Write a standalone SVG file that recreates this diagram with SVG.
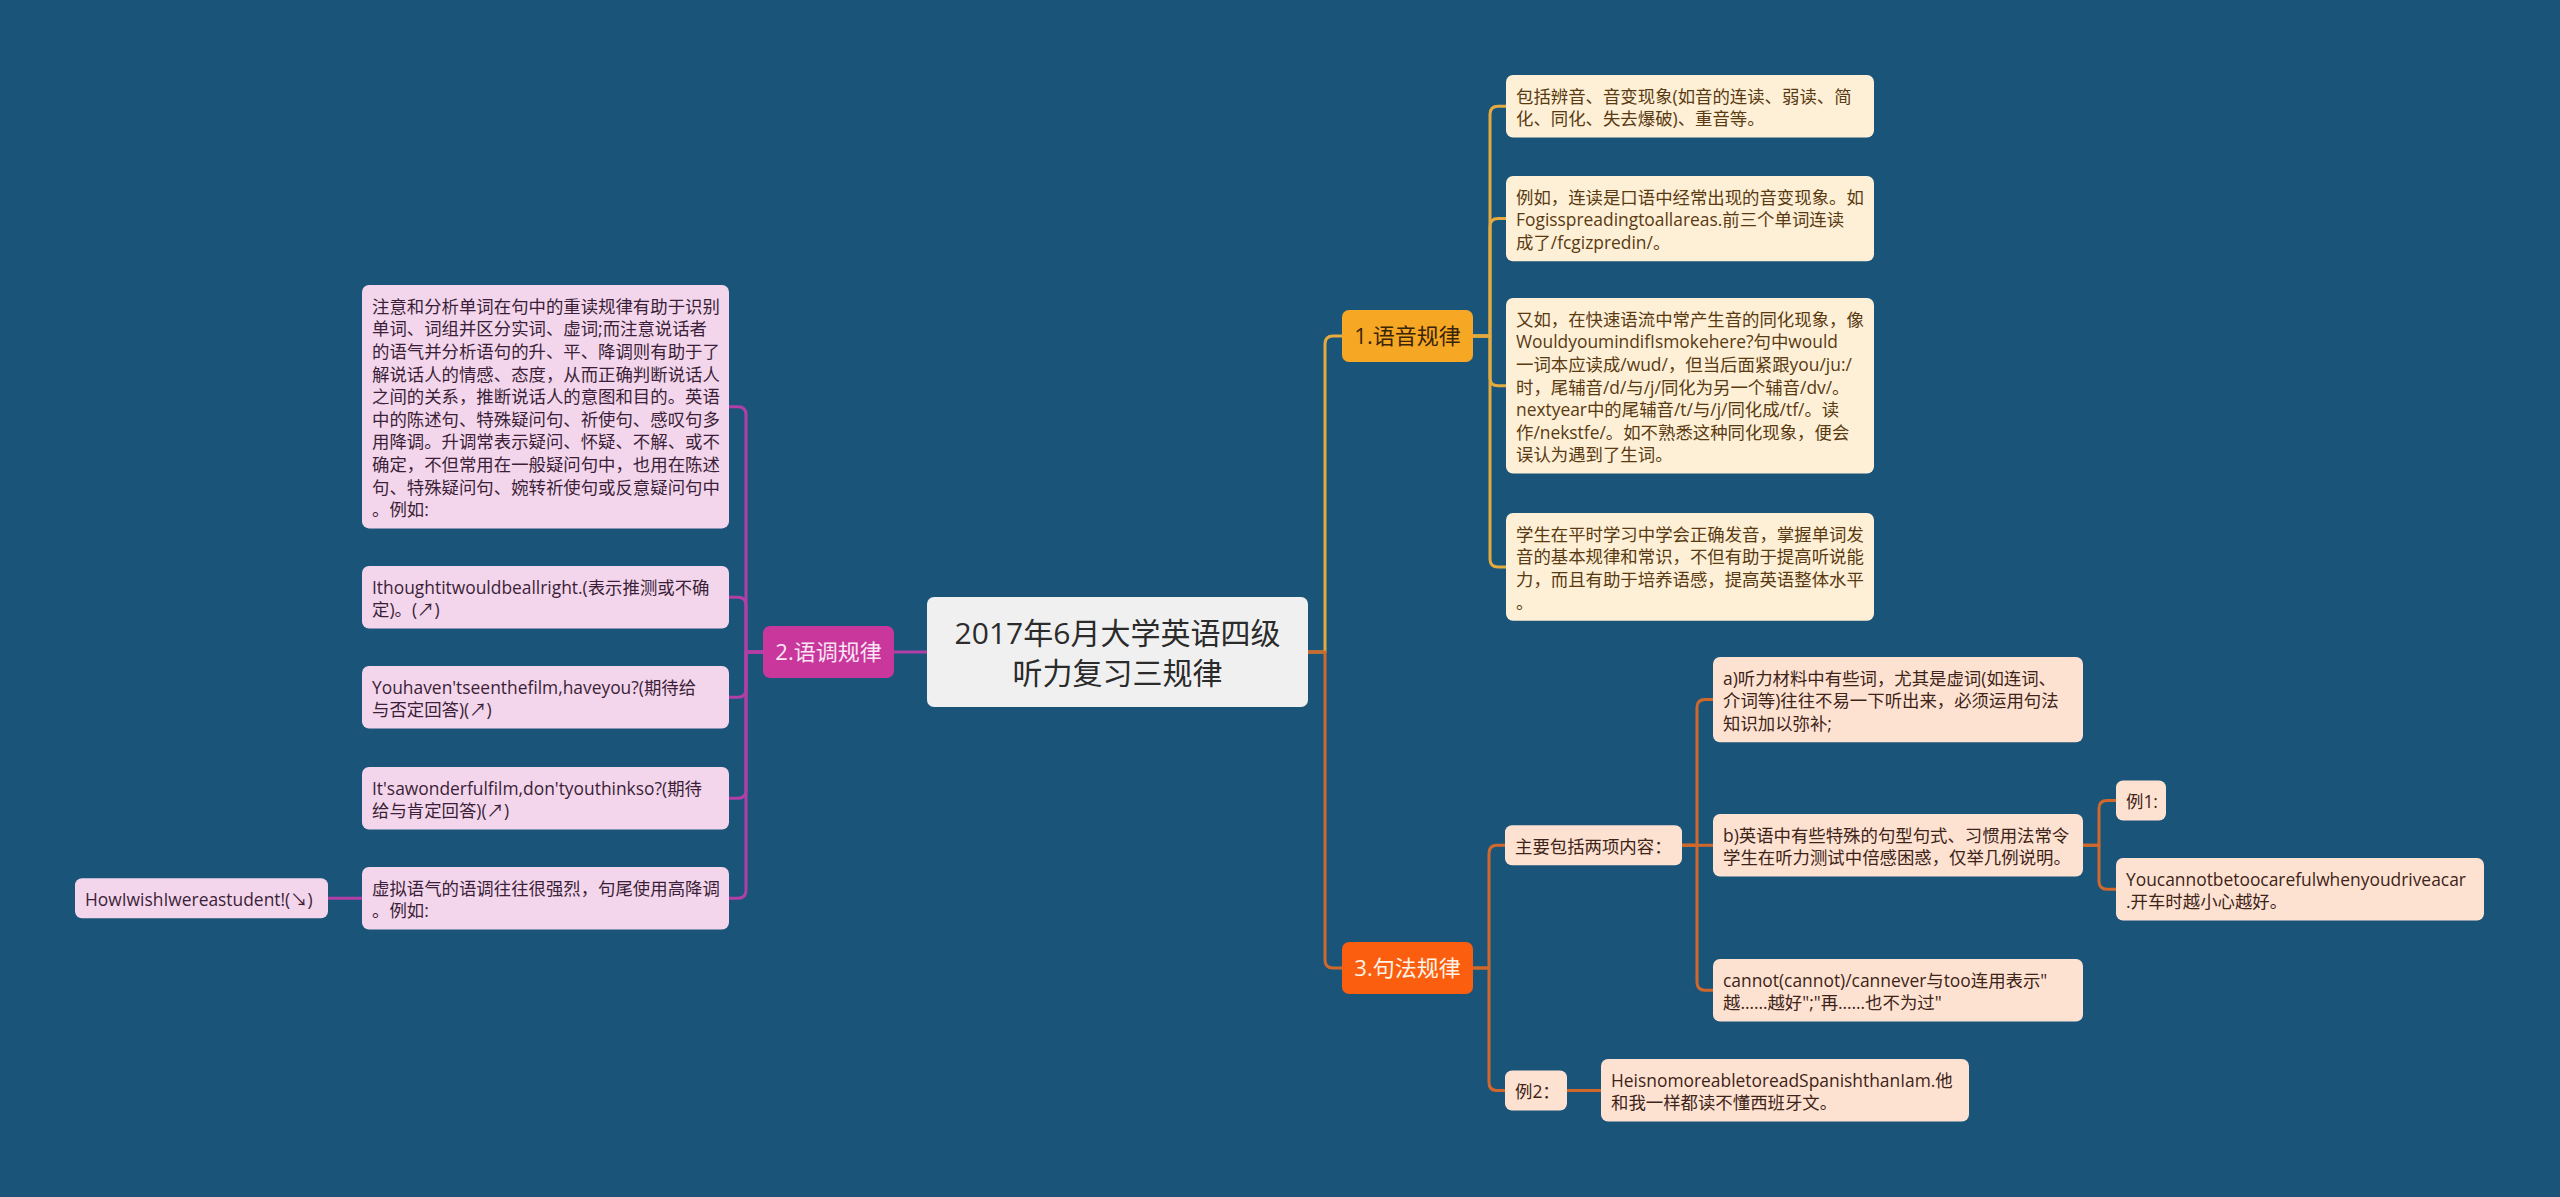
<svg xmlns="http://www.w3.org/2000/svg" width="2560" height="1197" viewBox="0 0 2560 1197">
<style>
text{font-family:"Open Sans","Noto Sans CJK SC",sans-serif;}
.t{font-size:17.4px;}
.br{font-size:22px;text-anchor:middle;}
.ctr{font-size:30px;text-anchor:middle;fill:#2b2b2b;}
.c1{fill:#fdf0d6;}
.c1t{fill:#5a3a12;}
.c3{fill:#fde2d2;}
.c3t{fill:#3e2418;}
.c2{fill:#f3d6ec;}
.c2t{fill:#3b1f38;}
.ln{fill:none;stroke-width:3;stroke-linejoin:round;}
.lg{stroke:#e2aa3f;}
.lo{stroke:#d0682c;}
.lp{stroke:#b23fa5;}
</style>
<rect x="0" y="0" width="2560" height="1197" fill="#1b5479"/>

<g id="connectors">
<path class="ln lp" d="M927,652 H894"/>
<path class="ln lg" d="M1308,652 H1325 V344 Q1325,336 1333,336 H1342"/>
<path class="ln lo" d="M1308,652 H1325 V960 Q1325,968 1333,968 H1342"/>
<path class="ln lg" d="M1473,336 H1490 V114.3 Q1490,106.3 1498,106.3 H1506"/>
<path class="ln lg" d="M1473,336 H1490 V226.6 Q1490,218.6 1498,218.6 H1506"/>
<path class="ln lg" d="M1473,336 H1490 V377.8 Q1490,385.8 1498,385.8 H1506"/>
<path class="ln lg" d="M1473,336 H1490 V558.9 Q1490,566.9 1498,566.9 H1506"/>
<path class="ln lo" d="M1473,968 H1489 V853.3 Q1489,845.3 1497,845.3 H1505"/>
<path class="ln lo" d="M1473,968 H1489 V1082.5 Q1489,1090.5 1497,1090.5 H1505"/>
<path class="ln lo" d="M1682,845.3 H1697 V707.6 Q1697,699.6 1705,699.6 H1713"/>
<path class="ln lo" d="M1682,845.3 H1713"/>
<path class="ln lo" d="M1682,845.3 H1697 V982.3 Q1697,990.3 1705,990.3 H1713"/>
<path class="ln lo" d="M2083,845.3 H2099 V808.5 Q2099,800.5 2107,800.5 H2116"/>
<path class="ln lo" d="M2083,845.3 H2099 V881.3 Q2099,889.3 2107,889.3 H2116"/>
<path class="ln lo" d="M1567,1090.5 H1601"/>
<path class="ln lp" d="M763,652 H746 V414.7 Q746,406.7 738,406.7 H729"/>
<path class="ln lp" d="M763,652 H746 V605.3 Q746,597.3 738,597.3 H729"/>
<path class="ln lp" d="M763,652 H746 V689.3 Q746,697.3 738,697.3 H729"/>
<path class="ln lp" d="M763,652 H746 V790.3 Q746,798.3 738,798.3 H729"/>
<path class="ln lp" d="M763,652 H746 V890.3 Q746,898.3 738,898.3 H729"/>
<path class="ln lp" d="M362,898.3 H328"/>
</g>

<g id="root">
<rect x="927" y="597" width="381" height="110" rx="7" fill="#f0f0f0"/>
<text class="ctr"><tspan x="1117.5" y="644">2017年6月大学英语四级</tspan><tspan x="1117.5" y="684">听力复习三规律</tspan></text>
</g>

<g id="b1">
<rect x="1342" y="310" width="131" height="52" rx="7" fill="#f6a724"/>
<text class="br" x="1407.5" y="344" fill="#3a2508">1.语音规律</text>
</g>
<g id="b2">
<rect x="763" y="626" width="131" height="52" rx="7" fill="#c9379c"/>
<text class="br" x="828.5" y="660" fill="#fbe5f4">2.语调规律</text>
</g>
<g id="b3">
<rect x="1342" y="942" width="131" height="52" rx="7" fill="#fa5e0e"/>
<text class="br" x="1407.5" y="976" fill="#fff3e6">3.句法规律</text>
</g>

<g id="n1a">
<rect class="c1" x="1506" y="75" width="368" height="62.6" rx="7"/>
<text class="t c1t"><tspan x="1516" y="102.7">包括辨音、音变现象(如音的连读、弱读、简</tspan><tspan x="1516" y="125.3">化、同化、失去爆破)、重音等。</tspan></text>
</g>
<g id="n1b">
<rect class="c1" x="1506" y="176" width="368" height="85.2" rx="7"/>
<text class="t c1t"><tspan x="1516" y="203.7">例如，连读是口语中经常出现的音变现象。如</tspan><tspan x="1516" y="226.3">Fogisspreadingtoallareas.前三个单词连读</tspan><tspan x="1516" y="248.9">成了/fcgizpredin/。</tspan></text>
</g>
<g id="n1c">
<rect class="c1" x="1506" y="298" width="368" height="175.6" rx="7"/>
<text class="t c1t"><tspan x="1516" y="325.7">又如，在快速语流中常产生音的同化现象，像</tspan><tspan x="1516" y="348.3">WouldyoumindifIsmokehere?句中would</tspan><tspan x="1516" y="370.9">一词本应读成/wud/，但当后面紧跟you/ju:/</tspan><tspan x="1516" y="393.5">时，尾辅音/d/与/j/同化为另一个辅音/dv/。</tspan><tspan x="1516" y="416.1">nextyear中的尾辅音/t/与/j/同化成/tf/。读</tspan><tspan x="1516" y="438.7">作/nekstfe/。如不熟悉这种同化现象，便会</tspan><tspan x="1516" y="461.3">误认为遇到了生词。</tspan></text>
</g>
<g id="n1d">
<rect class="c1" x="1506" y="513" width="368" height="107.8" rx="7"/>
<text class="t c1t"><tspan x="1516" y="540.7">学生在平时学习中学会正确发音，掌握单词发</tspan><tspan x="1516" y="563.3">音的基本规律和常识，不但有助于提高听说能</tspan><tspan x="1516" y="585.9">力，而且有助于培养语感，提高英语整体水平</tspan><tspan x="1516" y="608.5">。</tspan></text>
</g>

<g id="n3main">
<rect class="c3" x="1505" y="825.3" width="177" height="40" rx="7"/>
<text class="t c3t" x="1515" y="853">主要包括两项内容：</text>
</g>
<g id="n3a">
<rect class="c3" x="1713" y="657" width="370" height="85.2" rx="7"/>
<text class="t c3t"><tspan x="1723" y="684.7">a)听力材料中有些词，尤其是虚词(如连词、</tspan><tspan x="1723" y="707.3">介词等)往往不易一下听出来，必须运用句法</tspan><tspan x="1723" y="729.9">知识加以弥补;</tspan></text>
</g>
<g id="n3b">
<rect class="c3" x="1713" y="814" width="370" height="62.6" rx="7"/>
<text class="t c3t"><tspan x="1723" y="841.7">b)英语中有些特殊的句型句式、习惯用法常令</tspan><tspan x="1723" y="864.3">学生在听力测试中倍感困惑，仅举几例说明。</tspan></text>
</g>
<g id="n3c">
<rect class="c3" x="1713" y="959" width="370" height="62.6" rx="7"/>
<text class="t c3t"><tspan x="1723" y="986.7">cannot(cannot)/cannever与too连用表示"</tspan><tspan x="1723" y="1009.3">越……越好";"再……也不为过"</tspan></text>
</g>
<g id="n3b1">
<rect class="c3" x="2116" y="780.5" width="50" height="40" rx="7"/>
<text class="t c3t" x="2126" y="808.2">例1:</text>
</g>
<g id="n3b2">
<rect class="c3" x="2116" y="858" width="368" height="62.6" rx="7"/>
<text class="t c3t"><tspan x="2126" y="885.7">Youcannotbetoocarefulwhenyoudriveacar</tspan><tspan x="2126" y="908.3">.开车时越小心越好。</tspan></text>
</g>
<g id="n3ex2">
<rect class="c3" x="1505" y="1070.5" width="62" height="40" rx="7"/>
<text class="t c3t" x="1515" y="1098.2">例2：</text>
</g>
<g id="n3ex2a">
<rect class="c3" x="1601" y="1059" width="368" height="62.6" rx="7"/>
<text class="t c3t"><tspan x="1611" y="1086.7">HeisnomoreabletoreadSpanishthanIam.他</tspan><tspan x="1611" y="1109.3">和我一样都读不懂西班牙文。</tspan></text>
</g>

<g id="n2a">
<rect class="c2" x="362" y="285" width="367" height="243.4" rx="7"/>
<text class="t c2t"><tspan x="372" y="312.7">注意和分析单词在句中的重读规律有助于识别</tspan><tspan x="372" y="335.3">单词、词组并区分实词、虚词;而注意说话者</tspan><tspan x="372" y="357.9">的语气并分析语句的升、平、降调则有助于了</tspan><tspan x="372" y="380.5">解说话人的情感、态度，从而正确判断说话人</tspan><tspan x="372" y="403.1">之间的关系，推断说话人的意图和目的。英语</tspan><tspan x="372" y="425.7">中的陈述句、特殊疑问句、祈使句、感叹句多</tspan><tspan x="372" y="448.3">用降调。升调常表示疑问、怀疑、不解、或不</tspan><tspan x="372" y="470.9">确定，不但常用在一般疑问句中，也用在陈述</tspan><tspan x="372" y="493.5">句、特殊疑问句、婉转祈使句或反意疑问句中</tspan><tspan x="372" y="516.1">。例如:</tspan></text>
</g>
<g id="n2b">
<rect class="c2" x="362" y="566" width="367" height="62.6" rx="7"/>
<text class="t c2t"><tspan x="372" y="593.7">Ithoughtitwouldbeallright.(表示推测或不确</tspan><tspan x="372" y="616.3">定)。(↗)</tspan></text>
</g>
<g id="n2c">
<rect class="c2" x="362" y="666" width="367" height="62.6" rx="7"/>
<text class="t c2t"><tspan x="372" y="693.7">Youhaven'tseenthefilm,haveyou?(期待给</tspan><tspan x="372" y="716.3">与否定回答)(↗)</tspan></text>
</g>
<g id="n2d">
<rect class="c2" x="362" y="767" width="367" height="62.6" rx="7"/>
<text class="t c2t"><tspan x="372" y="794.7">It'sawonderfulfilm,don'tyouthinkso?(期待</tspan><tspan x="372" y="817.3">给与肯定回答)(↗)</tspan></text>
</g>
<g id="n2e">
<rect class="c2" x="362" y="867" width="367" height="62.6" rx="7"/>
<text class="t c2t"><tspan x="372" y="894.7">虚拟语气的语调往往很强烈，句尾使用高降调</tspan><tspan x="372" y="917.3">。例如:</tspan></text>
</g>
<g id="n2e1">
<rect class="c2" x="75" y="878.3" width="253" height="40" rx="7"/>
<text class="t c2t" x="85" y="906">HowIwishIwereastudent!(↘)</text>
</g>
</svg>
